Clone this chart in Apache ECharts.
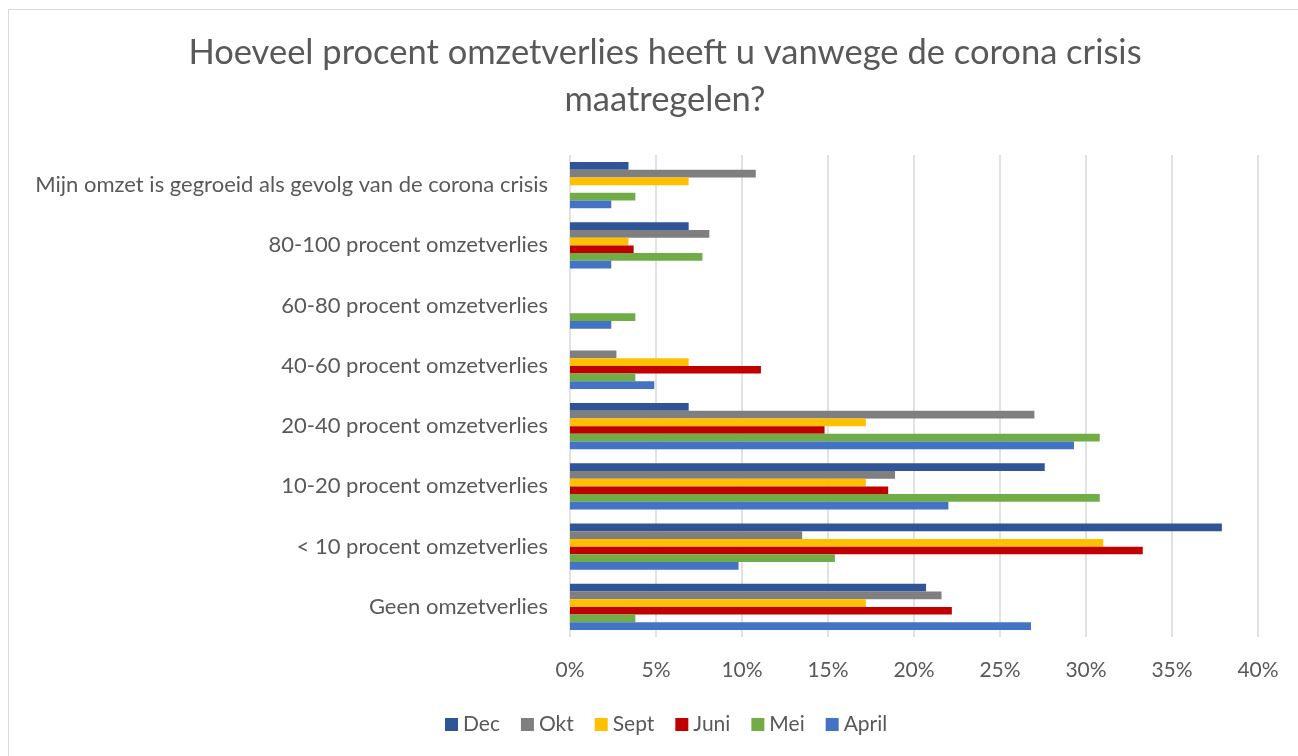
<!DOCTYPE html>
<html>
<head>
<meta charset="utf-8">
<script src="https://cdn.jsdelivr.net/npm/echarts@6/dist/echarts.min.js"></script>
<style>
  html, body { margin: 0; padding: 0; background: #fff; }
  #main { width: 1298px; height: 756px; }
</style>
</head>
<body>
<div id="main"></div>
<script>
// categories, bottom to top as ECharts draws them
var categories = [
  'Geen omzetverlies',
  '< 10 procent omzetverlies',
  '10-20 procent omzetverlies',
  '20-40 procent omzetverlies',
  '40-60 procent omzetverlies',
  '60-80 procent omzetverlies',
  '80-100 procent omzetverlies',
  'Mijn omzet is gegroeid als gevolg van de corona crisis'
];

// percentages per month, same order as categories
var april = [26.8, 9.8, 22.0, 29.3, 4.9, 2.4, 2.4, 2.4];
var mei   = [3.8, 15.4, 30.8, 30.8, 3.8, 3.8, 7.7, 3.8];
var juni  = [22.2, 33.3, 18.5, 14.8, 11.1, 0, 3.7, 0];
var sept  = [17.2, 31.0, 17.2, 17.2, 6.9, 0, 3.4, 6.9];
var okt   = [21.6, 13.5, 18.9, 27.0, 2.7, 0, 8.1, 10.8];
var dec   = [20.7, 37.9, 27.6, 6.9, 0, 0, 6.9, 3.4];

var font = 'Lato, "Open Sans", sans-serif';
var txt = '#595959';

function bar(name, data, color) {
  return {
    name: name,
    type: 'bar',
    data: data,
    barGap: '0%',
    barCategoryGap: '23%',
    itemStyle: { color: color },
    emphasis: { disabled: true }
  };
}

var chart = echarts.init(document.getElementById('main'));
chart.setOption({
  animation: false,
  backgroundColor: '#fff',
  textStyle: { fontFamily: font },
  title: {
    text: 'Hoeveel procent omzetverlies heeft u vanwege de corona crisis\nmaatregelen?',
    left: 660,
    textAlign: 'center',
    top: 24,
    textStyle: {
      color: txt,
      fontFamily: font,
      fontWeight: 'normal',
      fontSize: 34.5,
      lineHeight: 47
    }
  },
  graphic: [{
    type: 'rect',
    shape: { x: 8.5, y: 9.5, width: 1300, height: 760 },
    style: { fill: 'none', stroke: '#d9d9d9', lineWidth: 1 },
    silent: true
  }],
  legend: {
    bottom: 16,
    left: 440,
    icon: 'rect',
    itemWidth: 13,
    itemHeight: 13,
    itemGap: 21,
    textStyle: { color: txt, fontSize: 21, fontFamily: font }
  },
  grid: {
    left: 570,
    right: 40,
    top: 155,
    bottom: 119,
    containLabel: false
  },
  xAxis: {
    type: 'value',
    min: 0,
    max: 40,
    interval: 5,
    axisLine: { show: false },
    axisTick: { show: false },
    axisLabel: {
      formatter: '{value}%',
      color: txt,
      fontSize: 21,
      margin: 23
    },
    splitLine: { lineStyle: { color: '#d9d9d9', width: 1.5 } }
  },
  yAxis: {
    type: 'category',
    data: categories,
    axisLine: { show: false },
    axisTick: { show: false },
    axisLabel: { color: txt, fontSize: 22, margin: 22 }
  },
  series: [
    bar('Dec', dec, '#2F5597'),
    bar('Okt', okt, '#7F7F7F'),
    bar('Sept', sept, '#FFC000'),
    bar('Juni', juni, '#C00000'),
    bar('Mei', mei, '#70AD47'),
    bar('April', april, '#4472C4')
  ]
});
</script>
</body>
</html>
